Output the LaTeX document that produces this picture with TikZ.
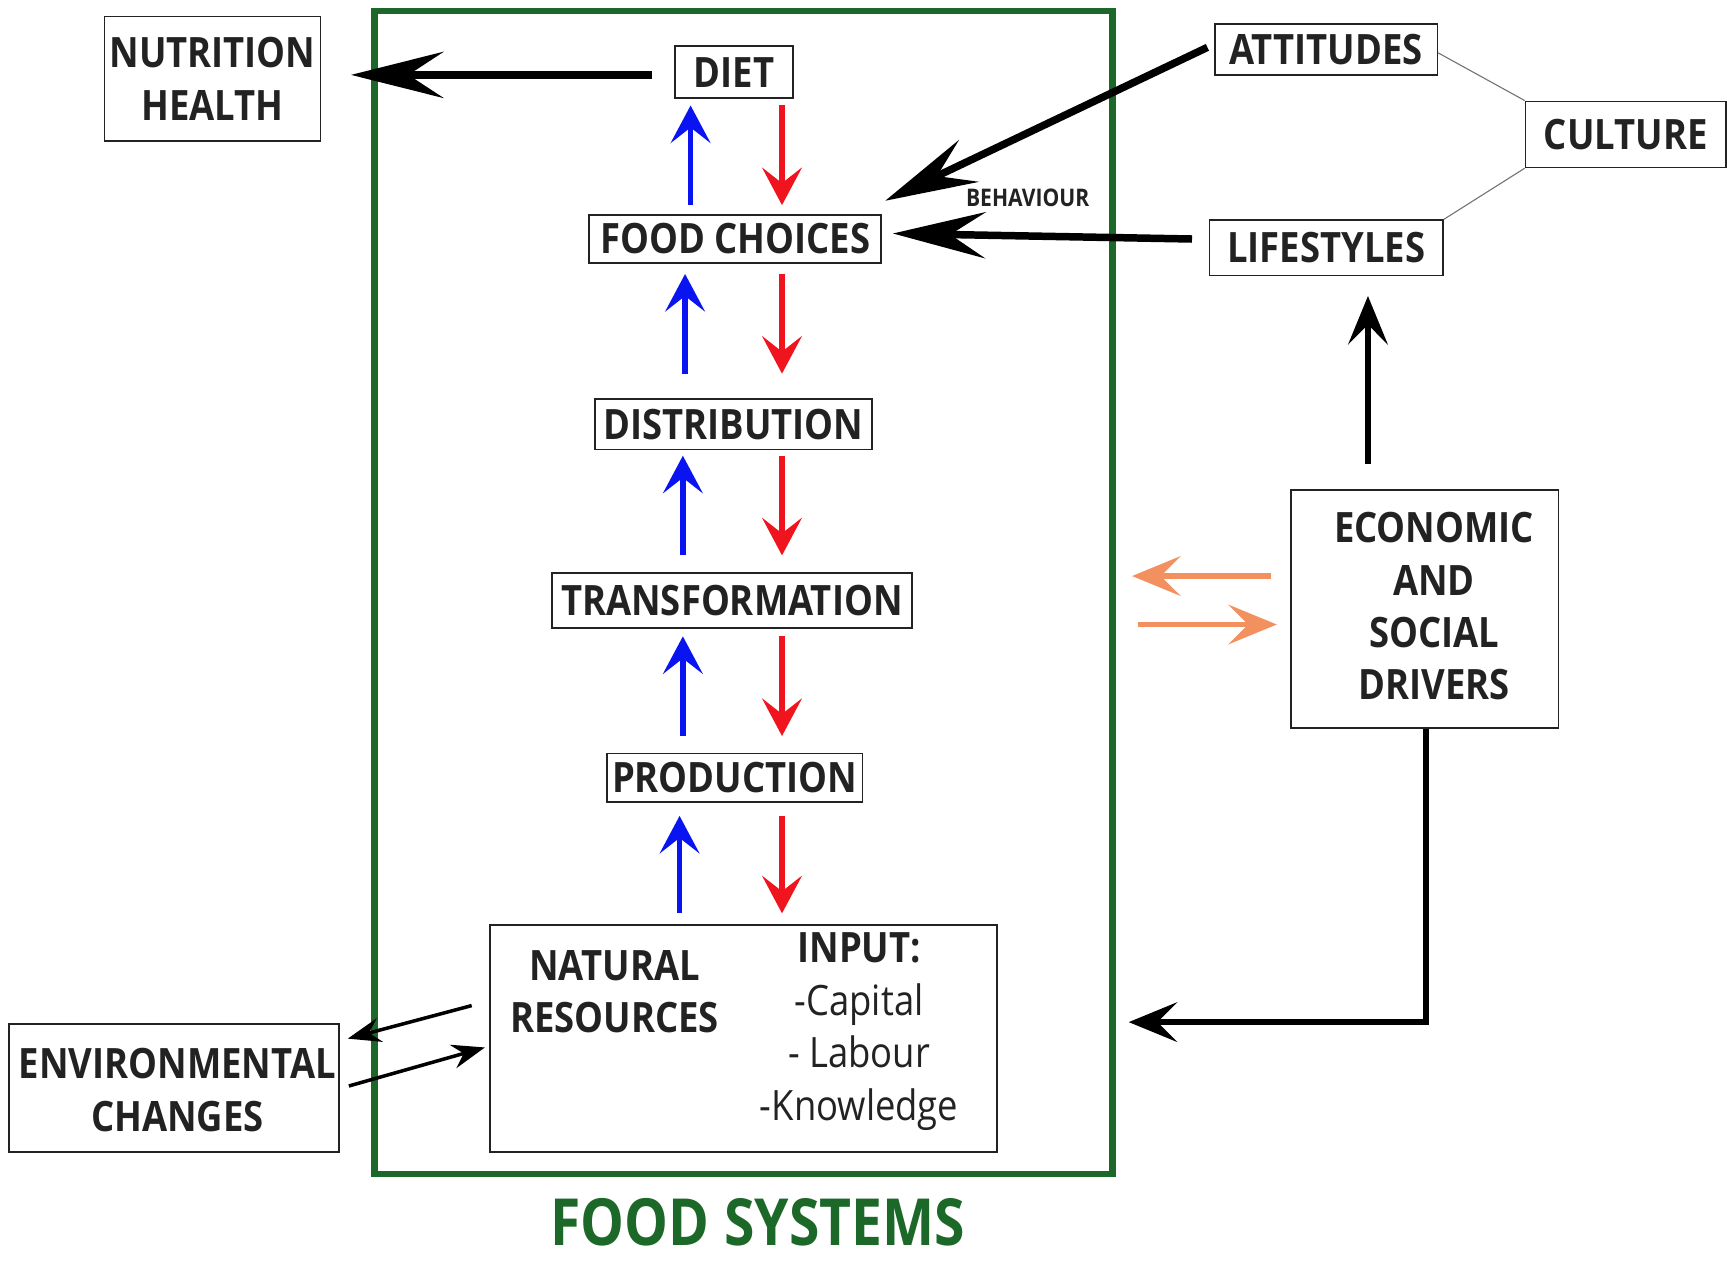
\documentclass[tikz,border=0pt]{standalone}
\usepackage{fontspec}
\setmainfont{Open Sans}[FakeStretch=0.87]
\newfontfamily\titlefont{Open Sans}[FakeStretch=0.85]
\usetikzlibrary{arrows.meta,calc}
\definecolor{fsgreen}{RGB}{28,104,40}
\definecolor{upblue}{RGB}{10,20,240}
\definecolor{downred}{RGB}{240,20,30}
\definecolor{orng}{RGB}{242,145,95}
\definecolor{txt}{RGB}{34,34,34}
\tikzset{
  lbl/.style={font=\fontsize{19}{23.8}\selectfont\bfseries, text=txt, align=center, inner sep=0pt},
  box/.style={draw=txt, line width=0.75pt, lbl},
  sz/.style 2 args={minimum width=#1*0.5pt, minimum height=#2*0.5pt},
  bigarr/.style={line width=3.4pt, -{Stealth[length=42pt,width=21pt,inset=16pt]}},
  medarr/.style={line width=2.6pt, -{Stealth[length=22pt,width=18pt,inset=9pt]}},
  colarr/.style={line width=2.4pt, -{Stealth[length=17pt,width=18pt,inset=7pt]}},
  envarr/.style={line width=1.6pt, -{Stealth[length=15pt,width=11pt,inset=5pt]}},
  uparr/.style={colarr, draw=upblue},
  downarr/.style={colarr, draw=downred},
  thinline/.style={draw=black!55, line width=0.5pt},
}
\newcommand\updown[6]{%
  \draw[uparr] ($(#2.north)+(#3,-#6)$) coordinate (t) -- ($(t |- #1.south)+(0,#5)$);
  \draw[downarr] ($(#1.south)+(#4,#5)$) coordinate (t) -- ($(t |- #2.north)+(0,-#6)$);
}
\begin{document}
\begin{tikzpicture}[x=0.5pt,y=-0.5pt]
\useasboundingbox (0,0) rectangle (1568,1146);
% food systems frame
\node[draw=fsgreen, line width=2.8pt, sz={670}{1056}, inner sep=0pt] (fs) at (675,538) {};
\node[font=\titlefont\fontsize{29.5}{34}\selectfont\bfseries, text=fsgreen, inner sep=0pt] (title) at (688,1110) {FOOD SYSTEMS};
% chain
\node[box, sz={196}{113}] (nutr) at (193,71.5) {NUTRITION\\HEALTH};
\node[box, sz={107}{47}] (diet) at (666.5,65.5) {DIET};
\node[box, sz={265}{44}] (fc) at (667.5,217) {FOOD CHOICES};
\node[box, sz={252}{46}] (dist) at (666,385) {DISTRIBUTION};
\node[box, sz={327}{50}] (trans) at (664.5,545) {TRANSFORMATION};
\node[box, sz={232}{44}] (prod) at (667,706) {PRODUCTION};
\node[box, sz={460}{206}] (nr) at (675,943) {};
\node[lbl] (nat) at (558,900.5) {NATURAL\\RESOURCES};
\node[lbl] (inp) at (780,936.5) {INPUT:\\{\mdseries -Capital}\\{\mdseries - Labour}\\{\mdseries -Knowledge}};
\node[box, sz={300}{116}] (env) at (158,988) {};
\node[lbl] (envt) at (161,989.5) {ENVIRONMENTAL\\CHANGES};
% right side
\node[box, sz={202}{46}] (att) at (1204,45) {ATTITUDES};
\node[box, sz={182}{60}] (cult) at (1476,122) {CULTURE};
\node[box, sz={212}{50}] (life) at (1204,225) {LIFESTYLES};
\node[box, sz={243}{216}] (econ) at (1293.5,553) {};
\node[lbl] (econt) at (1302,550.5) {ECONOMIC\\AND\\SOCIAL\\DRIVERS};
\node[font=\fontsize{11}{13}\selectfont\bfseries, text=txt, inner sep=0pt] (beh) at (933,180) {BEHAVIOUR};
% culture links
\draw[thinline] ($(att.east)+(0,3)$) -- (cult.north west);
\draw[thinline] (life.north east) -- (cult.south west);
% main arrows
\draw[bigarr] ($(diet.west)+(-20,2.5)$) coordinate (t) -- ($(t -| nutr.east)+(27,0)$);
\draw[bigarr] ($(att.west)+(-6,-2)$) -- ($(fc.north east)+(3,-12)$);
\draw[bigarr] ($(life.west)+(-15,-8)$) -- ($(fc.east)+(10,-5)$);
\draw[medarr] ($(econ.north)+(-51.5,-23)$) coordinate (t) -- ($(t |- life.south)+(0,18)$);
\draw[medarr] ($(econ.south)+(1.5,0)$) |- ($(fs.east)+(12,390)$);
\draw[medarr, draw=orng] ($(econ.west)+(-17,-30)$) -- ($(fs.east)+(15,-15)$);
\draw[medarr, draw=orng] ($(fs.east)+(20,29)$) -- ($(econ.west)+(-12,14)$);
\draw[envarr] ($(nr.west)+(-16,-30)$) -- ($(env.east)+(7,-45)$);
\draw[envarr] ($(env.east)+(8,-2)$) -- ($(nr.west)+(-4,8)$);
% blue / red chain arrows
\updown{diet}{fc}{-40.5}{43.5}{6}{8}
\updown{fc}{dist}{-44}{42.5}{9}{22}
\updown{dist}{trans}{-44.5}{44}{5}{15}
\updown{trans}{prod}{-47}{45.5}{7}{15}
\updown{prod}{nr}{-58}{43}{12}{10}
\end{tikzpicture}
\end{document}
